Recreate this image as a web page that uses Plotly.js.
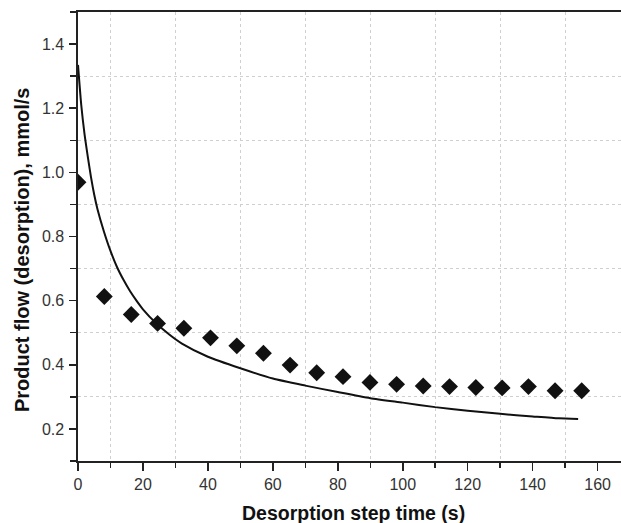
<!DOCTYPE html>
<html>
<head>
<meta charset="utf-8">
<script src="https://cdn.plot.ly/plotly-3.0.1.min.js"></script>
<style>html,body{margin:0;padding:0;background:#fff;}#chart{width:621px;height:523px;}</style>
</head>
<body>
<div id="chart"></div>
<script>
// Measured data (diamonds)
const expTime = [0, 8.1, 16.4, 24.5, 32.6, 40.8, 48.9, 57.1, 65.3, 73.5, 81.6, 89.9, 98.1, 106.3, 114.4, 122.5, 130.6, 138.7, 146.9, 155.1];
const expFlow = [0.969, 0.613, 0.557, 0.529, 0.514, 0.484, 0.459, 0.436, 0.399, 0.375, 0.363, 0.345, 0.339, 0.334, 0.332, 0.329, 0.328, 0.332, 0.319, 0.319];

// Model curve (solid line)
const modelTime = [0, 1, 2, 3, 4, 5, 6, 8, 10, 12, 14, 16, 18, 20, 24, 28, 32, 40, 50, 60, 70, 80, 90, 100, 110, 120, 130, 140, 148, 154];
const modelFlow = [1.335, 1.21, 1.12, 1.05, 0.985, 0.93, 0.885, 0.815, 0.755, 0.705, 0.665, 0.630, 0.600, 0.573, 0.530, 0.495, 0.466, 0.425, 0.389, 0.357, 0.335, 0.315, 0.296, 0.282, 0.268, 0.257, 0.247, 0.239, 0.233, 0.231];

const xTitle = 'Desorption step time (s)';
const yTitle = 'Product flow (desorption), mmol/s';

const traces = [
  {
    x: modelTime, y: modelFlow, type: 'scatter', mode: 'lines',
    line: {color: '#111', width: 2, shape: 'spline', smoothing: 0.6},
    hoverinfo: 'skip', showlegend: false
  },
  {
    x: expTime, y: expFlow, type: 'scatter', mode: 'markers',
    marker: {symbol: 'diamond', size: 13, color: '#111'},
    cliponaxis: true, showlegend: false
  }
];

const fam = 'Liberation Sans, Arial, sans-serif';
const tickFont = {family: fam, size: 16, color: '#333'};

const layout = {
  width: 621, height: 523,
  margin: {l: 78, r: 0, t: 12, b: 62, pad: 0},
  paper_bgcolor: '#fff', plot_bgcolor: '#fff',
  showlegend: false,
  xaxis: {
    range: [0, 167.2], tick0: 0, dtick: 20,
    showgrid: false, zeroline: false,
    showline: true, linecolor: '#222', linewidth: 1.6, mirror: true,
    ticks: 'outside', ticklen: 8, tickwidth: 1.5, tickcolor: '#222',
    tickfont: tickFont, ticklabelstandoff: 0,
    minor: {tick0: 10, dtick: 20, ticks: 'outside', ticklen: 5, tickwidth: 1.5, tickcolor: '#222',
            showgrid: true, gridcolor: '#cfcfcf', gridwidth: 1, griddash: 'dot'}
  },
  yaxis: {
    range: [0.1, 1.5], tick0: 0.2, dtick: 0.2, tickformat: '.1f',
    showgrid: false, zeroline: false,
    showline: true, linecolor: '#222', linewidth: 1.6, mirror: false,
    ticks: 'outside', ticklen: 7, tickwidth: 1.5, tickcolor: '#222',
    tickfont: tickFont, ticklabelstandoff: 2,
    minor: {tick0: 0.1, dtick: 0.2, ticks: 'outside', ticklen: 6, tickwidth: 1.5, tickcolor: '#222',
            showgrid: true, gridcolor: '#cfcfcf', gridwidth: 1, griddash: 'dot'}
  },
  annotations: [
    {
      text: '<b>' + yTitle + '</b>', textangle: -90,
      xref: 'paper', yref: 'paper', x: -0.103, y: 0.47,
      xanchor: 'center', yanchor: 'middle', showarrow: false,
      font: {family: fam, size: 20, color: '#111'}
    },
    {
      text: '<b>' + xTitle + '</b>',
      xref: 'paper', yref: 'paper', x: 0.508, y: -0.1158,
      xanchor: 'center', yanchor: 'middle', showarrow: false,
      font: {family: fam, size: 19.5, color: '#111'}
    }
  ]
};

Plotly.newPlot('chart', traces, layout, {displayModeBar: false, staticPlot: true});
</script>
</body>
</html>
